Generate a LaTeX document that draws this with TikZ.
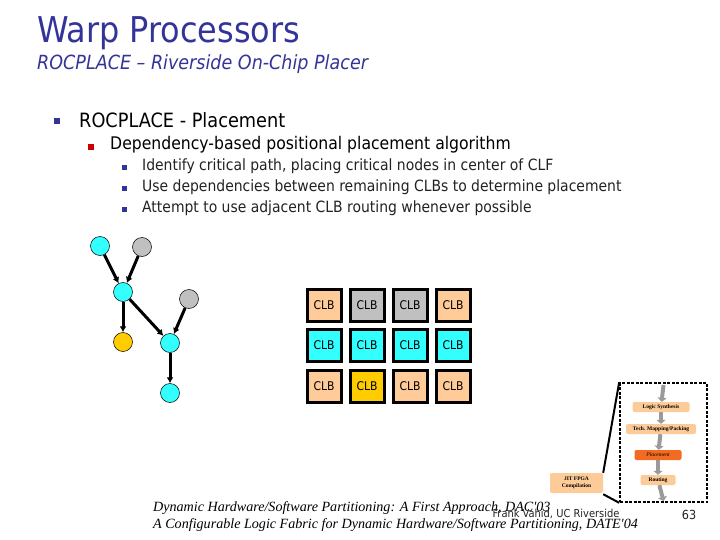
\documentclass[tikz,border=0pt]{standalone}
\usepackage{fontspec}
\setmainfont{DejaVu Sans Condensed}
\newfontfamily\footfont{Liberation Serif}
\usetikzlibrary{arrows.meta,positioning}
\definecolor{Navy}{HTML}{333399}
\definecolor{BulletRed}{HTML}{CC0000}
\definecolor{NodeCyan}{HTML}{33FFFF}
\definecolor{NodeGray}{HTML}{C0C0C0}
\definecolor{NodeGold}{HTML}{FFCC00}
\definecolor{Peach}{HTML}{FFCC99}
\definecolor{StepPeach}{HTML}{FCCB98}
\definecolor{StepOrange}{HTML}{F26B21}
\definecolor{ArrowGray}{HTML}{9A9A9A}
\definecolor{Ink}{HTML}{222222}

\begin{document}
\begin{tikzpicture}[x=1pt,y=-1pt,
      dep/.style={-{Latex[length=6pt,width=7pt]},line width=3pt},
      vtx/.style={circle,draw=black,line width=0.5pt,minimum size=19pt,inner sep=0pt},
      clb/.style={draw=black,line width=3pt,minimum width=34pt,minimum height=32pt,
                  inner sep=0pt,font=\fontsize{12}{12}\selectfont},
      stepbox/.style={rounded corners=2pt,fill=StepPeach,minimum height=10pt,inner sep=1pt,
                      font=\footfont\bfseries\fontsize{5.5}{5.5}\selectfont},
      down/.style={-{Triangle[length=4pt,width=9pt]},ArrowGray,line width=4pt},
      zoomline/.style={line width=2pt,black},
      bul/.style={inner sep=0pt}]
    \useasboundingbox (0,0) rectangle (720,540);
    % title
    \node[anchor=base west,text=Navy,inner sep=0pt,font=\fontsize{35.5}{35.5}\selectfont]
      (title) at (37,43) {Warp Processors};
    \node[anchor=base west,text=Navy,inner sep=0pt,font=\itshape\fontsize{19.5}{19.5}\selectfont]
      (subtitle) at (37,70) {ROCPLACE -- Riverside On-Chip Placer};
    % bullets
    \node[bul,fill=Navy,minimum size=6pt] (b1) at (57,121) {};
    \node[anchor=west,inner sep=0pt,font=\fontsize{19.7}{19.7}\selectfont]
      (t1) at (79,120) {ROCPLACE - Placement};
    \node[bul,fill=BulletRed,minimum size=6pt] (b2) at (91,147) {};
    \node[anchor=west,inner sep=0pt,font=\fontsize{17.4}{17.4}\selectfont]
      (t2) at (110,145) {Dependency-based positional placement algorithm};
    \node[bul,fill=Navy,minimum size=5pt] (b3a) at (124,168) {};
    \node[bul,fill=Navy,minimum size=5pt] (b3b) at (124,189) {};
    \node[bul,fill=Navy,minimum size=5pt] (b3c) at (124,210) {};
    \node[anchor=west,inner sep=0pt,text=Ink,font=\fontsize{15.5}{15.5}\selectfont]
      (t3a) at (142,166) {Identify critical path, placing critical nodes in center of CLF};
    \node[anchor=west,inner sep=0pt,text=Ink,font=\fontsize{15.5}{15.5}\selectfont]
      (t3b) at (142,187) {Use dependencies between remaining CLBs to determine placement};
    \node[anchor=west,inner sep=0pt,text=Ink,font=\fontsize{15.5}{15.5}\selectfont]
      (t3c) at (142,208) {Attempt to use adjacent CLB routing whenever possible};
    % dependency graph
    \node[vtx,fill=NodeCyan] (na) at (100,246) {};
    \node[vtx,fill=NodeGray] (nb) at (142,247) {};
    \node[vtx,fill=NodeCyan] (nc) at (123,292) {};
    \node[vtx,fill=NodeGray] (nd) at (189,299) {};
    \node[vtx,fill=NodeGold] (ne) at (123,342) {};
    \node[vtx,fill=NodeCyan] (nf) at (170,343) {};
    \node[vtx,fill=NodeCyan] (ng) at (170,393) {};
    \draw[dep] (na)--(nc);
    \draw[dep] (nb)--(nc);
    \draw[dep] (nc)--(ne);
    \draw[dep] (nc)--(nf);
    \draw[dep] (nd)--(nf);
    \draw[dep] (nf)--(ng);
    % CLB array
    \node[clb,fill=Peach]    (c11) at (324,305) {CLB};
    \node[clb,fill=NodeGray] (c12) at (367,305) {CLB};
    \node[clb,fill=NodeGray] (c13) at (410,305) {CLB};
    \node[clb,fill=Peach]    (c14) at (453,305) {CLB};
    \node[clb,fill=NodeCyan] (c21) at (324,345) {CLB};
    \node[clb,fill=NodeCyan] (c22) at (367,345) {CLB};
    \node[clb,fill=NodeCyan] (c23) at (410,345) {CLB};
    \node[clb,fill=NodeCyan] (c24) at (453,345) {CLB};
    \node[clb,fill=Peach]    (c31) at (324,386) {CLB};
    \node[clb,fill=NodeGold] (c32) at (367,386) {CLB};
    \node[clb,fill=Peach]    (c33) at (410,386) {CLB};
    \node[clb,fill=Peach]    (c34) at (453,386) {CLB};
    % tool flow inset
    \node[draw=black,dashed,dash pattern=on 3pt off 1.5pt,line width=1.6pt,
          minimum width=87pt,minimum height=119pt,inner sep=0pt]
      (flow) at (663.5,442.5) {};
    \coordinate (top) at (663.5,385);
    \coordinate (bot) at (663.5,501);
    \node[stepbox,minimum width=57pt] (logic) at (661,407) {Logic Synthesis};
    \node[stepbox,minimum width=70pt] (techmap) at (661,429) {Tech. Mapping/Packing};
    \node[stepbox,minimum width=47pt,fill=StepOrange,
          font=\footfont\itshape\fontsize{5.5}{5.5}\selectfont] (place) at (658,455) {Placement};
    \node[stepbox,minimum width=35pt] (route) at (658,480) {Routing};
    \draw[down] (top)--(logic);
    \draw[down] (logic)--(techmap);
    \draw[down] (techmap)--(place);
    \draw[down] (place)--(route);
    \draw[down] (route)--(bot);
    \node[stepbox,minimum width=53pt,minimum height=20pt,align=center,
          font=\footfont\bfseries\fontsize{5.5}{6.5}\selectfont]
      (jit) at (576.5,483) {JIT FPGA\\Compilation};
    \draw[zoomline] (jit.north east)--(flow.north west);
    \draw[zoomline] ([yshift=-1pt]jit.south east)--(flow.south west);
    % footer
    \node[anchor=base west,inner sep=0pt,font=\footfont\itshape\fontsize{14.1}{14.1}\selectfont]
      (ref1) at (153,511) {Dynamic Hardware/Software Partitioning: A First Approach, DAC'03};
    \node[anchor=base west,inner sep=0pt,font=\footfont\itshape\fontsize{14.1}{14.1}\selectfont]
      (ref2) at (153,528) {A Configurable Logic Fabric for Dynamic Hardware/Software Partitioning, DATE'04};
    \node[inner sep=0pt,text=Ink,font=\fontsize{11}{11}\selectfont]
      (author) at (556,514) {Frank Vahid, UC Riverside};
    \node[inner sep=0pt,text=Ink,font=\fontsize{12.5}{12.5}\selectfont]
      (page) at (689,515) {63};
  \end{tikzpicture}
\end{document}
